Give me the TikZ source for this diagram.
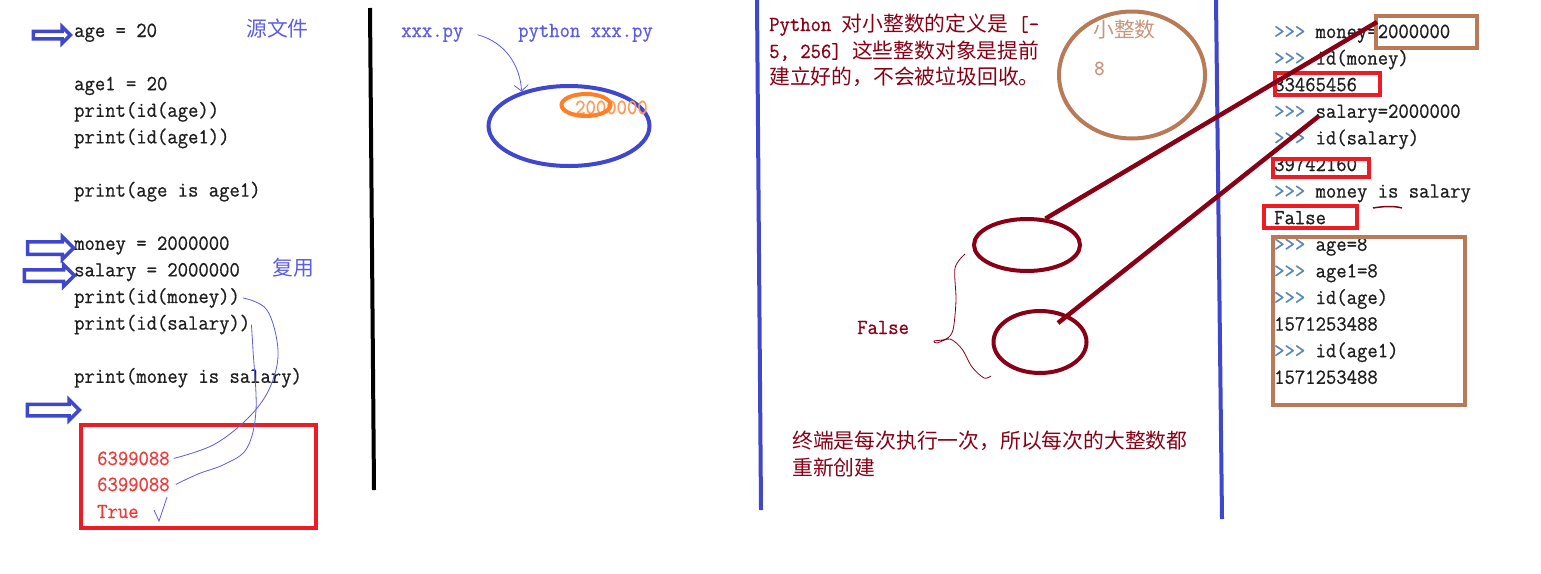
\documentclass[tikz,border=0pt]{standalone}
\usepackage{fontspec}
\usepackage{xcolor}
\usetikzlibrary{shapes.geometric, shapes.arrows, arrows.meta, calc}

\newfontfamily\codefont[FakeStretch=0.935, FakeBold=0.7]{Latin Modern Mono}
\newfontfamily\cjk{Noto Sans CJK SC}

\definecolor{inkblue}{HTML}{3F48CC}
\definecolor{noteblue}{HTML}{5C5CE6}
\definecolor{boxred}{HTML}{ED1C24}
\definecolor{outred}{HTML}{F03A3A}
\definecolor{darkred}{HTML}{880015}
\definecolor{paintbrown}{HTML}{B97A57}
\definecolor{lightbrown}{HTML}{C8967A}
\definecolor{paintorange}{HTML}{FF7F27}
\definecolor{orangetext}{HTML}{FF9A55}
\definecolor{promptc}{HTML}{5A88B4}
\definecolor{codeink}{HTML}{1E1E1E}

\newcommand{\prompt}{\textcolor{promptc}{>>>}\ }
\newcommand{\lat}[1]{{\codefont\fontsize{21.5}{26}\selectfont #1}}

\begin{document}
\begin{tikzpicture}[
        x=1pt, y=-1pt,
        % one line of code or shell text
        code/.style={
            font=\codefont\fontsize{21.5}{26}\selectfont,
            text=codeink,
            anchor=base west,
            inner sep=0pt
        },
        % chinese notes
        han/.style={
            font=\cjk\fontsize{20.8}{26}\selectfont,
            anchor=base west,
            inner sep=0pt
        },
        hollow/.style={single arrow, draw=inkblue, fill=white, line width=3.5pt, inner xsep=0pt},
        sketch/.style={draw=noteblue, line width=0.8pt},
        blob/.style={ellipse, draw, line width=4pt, inner sep=0pt},
        frame/.style={draw, line width=4pt},
        wire/.style={draw=darkred, line width=4.5pt},
        divider/.style={line width=4pt}
    ]

    \fill[white] (0,0) rectangle (1541,573);
    \useasboundingbox (0,0) rectangle (1541,573);

    % ==========================================
    % SOURCE FILE
    % ==========================================

    \foreach \n/\txt in {0/age = 20, 2/age1 = 20, 3/print(id(age)), 4/print(id(age1)),
            6/print(age is age1), 8/money = 2000000, 9/salary = 2000000,
            10/print(id(money)), 11/print(id(salary)), 13/print(money is salary)}
        \node[code] (src\n) at (74, 37+26.6*\n) {\txt};

    \node[han, text=noteblue] (srcnote) at (246,36) {源文件};
    \node[han, text=noteblue] (reusenote) at (272,275) {复用};

    % hollow pointers
    \node[hollow, minimum height=37pt, inner ysep=2pt, single arrow head extend=4.5pt] (markage) at (50,35) {};
    \node[hollow, minimum height=46pt, inner ysep=4.5pt, single arrow head extend=5pt] (markmoney) at (47.5,248) {};
    \node[hollow, minimum height=50pt, inner ysep=4pt, single arrow head extend=5pt] (marksalary) at (46.5,275.5) {};
    \node[hollow, minimum height=52pt, inner ysep=4pt, single arrow head extend=4.5pt] (markout) at (50.5,410) {};

    % output of the run
    \draw[frame, boxred] (81,425) rectangle (316,528);
    \node[code, text=outred] (out1) at (97,465) {6399088};
    \node[code, text=outred] (out2) at (97,491) {6399088};
    \node[code, text=outred] (outtrue) at (97,518) {True};

    \draw[sketch] plot[smooth, tension=0.6] coordinates {([xshift=3pt]src10.east) (267,310) (278,350) (271,385) (251,415) (215,444) ([xshift=4pt]out1.east)};
    \draw[sketch] plot[smooth, tension=0.6] coordinates {([xshift=1pt]src11.east) (253,350) (256,410) (247,448) (225,464) (198,474) ([xshift=6pt]out2.east)};
    \draw[sketch] (167,497) -- (159,521) -- (154,510);

    % dividers
    \draw[divider, black] (370,8) -- (374,490);
    \draw[divider, inkblue] (757,0) -- (761,510);
    \draw[divider, inkblue] (1216,0) -- (1222,519);

    % ==========================================
    % RUNNING THE FILE
    % ==========================================

    \node[code, text=noteblue] (file) at (401,37) {xxx.py};
    \node[code, text=noteblue] (cmd) at (518,37) {python xxx.py};
    \node[blob, draw=inkblue, minimum width=161pt, minimum height=80pt] (process) at (569,126) {};
    \node[code, text=orangetext] (bigval) at (575,114) {2000000};
    \node[blob, draw=paintorange, minimum width=49pt, minimum height=22pt] (bigint) at (586,105) {};

    \draw[sketch, -{Straight Barb[length=6pt, width=14pt]}] ([xshift=14pt]file.east) .. controls (505,42) and (520,65) .. (process.144);

    % ==========================================
    % SMALL INTEGER POOL
    % ==========================================

    \node[han, text=darkred] (rule1) at (769,31) {\lat{Python }对小整数的定义是\lat{ [-}};
    \node[han, text=darkred] (rule2) at (769,58) {\lat{5, 256] }这些整数对象是提前};
    \node[han, text=darkred] (rule3) at (769,84) {建立好的，不会被垃圾回收。};

    \node[blob, draw=paintbrown, minimum width=146pt, minimum height=127pt] (smallpool) at (1132,75) {};
    \node[han, text=lightbrown] (pooltitle) at (1093,37) {小整数};
    \node[code, text=lightbrown] (poolval) at (1094,75) {8};

    \node[blob, draw=darkred, minimum width=106pt, minimum height=52pt] (objA) at (1027,245) {};
    \node[blob, draw=darkred, minimum width=93pt, minimum height=62pt] (objB) at (1040,342) {};

    \node[code, text=darkred] (falsenote) at (857,334) {False};
    \draw[darkred, line width=0.8pt] plot[smooth, tension=0.5] coordinates {(965,254) (955,268) (956,300) (953,330) (946,339) (934,341) (937,343) (950,339) (962,349) (972,367) (984,378) (991,376)};

    \node[han, text=darkred] (shellnote1) at (792,448) {终端是每次执行一次，所以每次的大整数都};
    \node[han, text=darkred] (shellnote2) at (792,475) {重新创建};

    % ==========================================
    % INTERACTIVE SHELL
    % ==========================================

    \foreach \n/\txt in {0/\prompt money=2000000, 1/\prompt id(money), 2/33465456,
            3/\prompt salary=2000000, 4/\prompt id(salary), 5/39742160,
            6/\prompt money is salary, 7/False, 8/\prompt age=8, 9/\prompt age1=8,
            10/\prompt id(age), 11/1571253488, 12/\prompt id(age1), 13/1571253488}
        \node[code] (shell\n) at (1274, 38+26.6*\n) {\txt};

    \draw[frame, paintbrown] (1376,16) rectangle (1477,48);
    \draw[frame, boxred] (1275,73) rectangle (1380,95);
    \draw[frame, boxred] (1273,159) rectangle (1369,177);
    \draw[frame, boxred] (1264,206) rectangle (1357,228);
    \draw[frame, paintbrown] (1273,237) rectangle (1465,405);

    \draw[darkred, line width=1.5pt] (1373,208) .. controls (1385,206) and (1395,206) .. (1402,208);

    % links from the shell objects
    \coordinate (moneyend) at (1377,22);
    \coordinate (salaryend) at (1319,116);
    \draw[wire] (objA.55) -- (moneyend);
    \draw[wire] ($(objB.center)+(18,-19)$) -- (salaryend);

\end{tikzpicture}
\end{document}
